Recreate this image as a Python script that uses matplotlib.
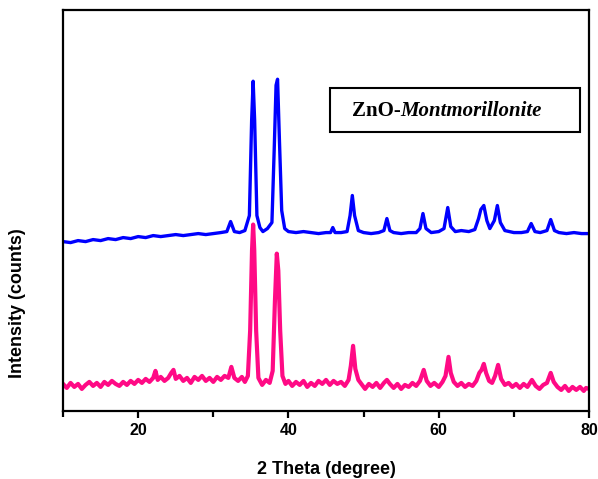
import matplotlib
matplotlib.use("Agg")
import matplotlib.pyplot as plt
from matplotlib.patches import Rectangle

# ZnO-Montmorillonite (upper trace, blue)
blue_2theta = [10.0, 11.0, 12.0, 13.0, 14.0, 15.0, 16.0, 17.0, 18.0, 19.0, 20.0, 21.0, 22.0, 23.0, 24.0,
               25.0, 26.0, 27.0, 28.0, 29.0, 30.0, 31.0, 31.8, 32.3, 32.8, 33.5, 34.2, 34.8, 35.1, 35.3,
               35.5, 35.8, 36.2, 36.6, 37.2, 37.8, 38.1, 38.35, 38.55, 38.8, 39.1, 39.5, 40.0, 41.0, 42.0,
               43.0, 44.0, 45.0, 45.6, 45.9, 46.2, 47.0, 47.8, 48.2, 48.5, 48.8, 49.3, 50.0, 51.0, 52.0,
               52.7, 53.1, 53.5, 54.0, 55.0, 56.0, 57.0, 57.5, 57.9, 58.3, 59.0, 60.0, 60.7, 61.2, 61.6,
               62.2, 63.0, 64.0, 64.8, 65.3, 65.6, 66.0, 66.4, 66.8, 67.4, 67.8, 68.2, 68.8, 70.0, 71.0,
               71.8, 72.3, 72.8, 73.5, 74.4, 74.9, 75.4, 76.0, 77.0, 78.0, 79.0, 80.0]
blue_counts = [169, 168, 170, 169, 171, 170, 172, 171, 173, 172, 174, 173, 175, 174, 175,
               176, 175, 176, 177, 176, 177, 178, 179, 189, 179, 178, 180, 195, 290, 329,
               290, 195, 183, 179, 182, 188, 260, 325, 331, 270, 200, 182, 179, 178, 179,
               178, 177, 178, 178, 183, 178, 178, 179, 195, 215, 195, 180, 178, 177, 178,
               180, 192, 180, 178, 177, 178, 178, 182, 197, 182, 178, 179, 182, 203, 184,
               179, 180, 179, 181, 192, 201, 205, 190, 182, 190, 205, 188, 180, 178, 178,
               179, 187, 179, 178, 180, 191, 180, 178, 177, 178, 177, 177]

# lower trace (pink)
pink_2theta = [10.0, 10.5, 11.0, 11.5, 12.0, 12.5, 13.0, 13.5, 14.0, 14.5, 15.0, 15.5, 16.0, 16.5, 17.0,
               17.5, 18.0, 18.5, 19.0, 19.5, 20.0, 20.5, 21.0, 21.5, 22.0, 22.3, 22.6, 23.0, 23.5, 24.0,
               24.4, 24.7, 25.0, 25.5, 26.0, 26.5, 27.0, 27.5, 28.0, 28.5, 29.0, 29.5, 30.0, 30.5, 31.0,
               31.5, 32.0, 32.4, 32.8, 33.3, 33.8, 34.2, 34.6, 34.9, 35.15, 35.3, 35.45, 35.7, 36.0, 36.5,
               37.0, 37.5, 37.9, 38.2, 38.45, 38.65, 38.9, 39.2, 39.6, 40.0, 40.5, 41.0, 41.5, 42.0, 42.5,
               43.0, 43.5, 44.0, 44.5, 45.0, 45.5, 46.0, 46.5, 47.0, 47.5, 48.0, 48.3, 48.6, 48.9, 49.3,
               49.8, 50.2, 50.7, 51.2, 51.7, 52.2, 52.7, 53.1, 53.5, 54.0, 54.5, 55.0, 55.5, 56.0, 56.5,
               57.0, 57.5, 58.0, 58.4, 58.9, 59.4, 60.0, 60.5, 60.9, 61.3, 61.6, 62.0, 62.5, 63.0, 63.5,
               64.0, 64.5, 65.0, 65.4, 65.7, 66.0, 66.3, 66.7, 67.1, 67.5, 67.9, 68.3, 68.8, 69.3, 69.8,
               70.3, 70.8, 71.3, 71.8, 72.4, 72.9, 73.4, 73.9, 74.4, 74.9, 75.3, 75.8, 76.3, 76.8, 77.3,
               77.8, 78.3, 78.8, 79.3, 79.6, 80.0]
pink_counts = [27, 23, 28, 24, 27, 22, 26, 29, 25, 28, 24, 29, 26, 30, 27,
               25, 29, 26, 30, 27, 31, 28, 32, 29, 33, 40, 31, 34, 30, 33,
               38, 41, 32, 35, 30, 33, 28, 34, 31, 35, 30, 33, 29, 34, 31,
               35, 33, 44, 33, 30, 34, 29, 35, 80, 160, 186, 160, 80, 33, 26,
               31, 28, 40, 110, 157, 140, 80, 35, 27, 30, 25, 29, 26, 30, 24,
               28, 25, 30, 27, 31, 26, 30, 27, 29, 25, 31, 45, 65, 42, 31,
               26, 22, 27, 24, 28, 23, 28, 31, 27, 23, 27, 22, 26, 24, 28,
               25, 30, 41, 30, 25, 28, 24, 29, 35, 54, 38, 29, 25, 28, 24,
               27, 25, 30, 38, 41, 47, 38, 30, 28, 35, 46, 32, 26, 28, 24,
               27, 23, 27, 24, 31, 25, 22, 26, 28, 38, 29, 24, 21, 25, 20,
               24, 21, 24, 20, 23, 22]

x_major = [20, 40, 60, 80]
x_minor = [10, 30, 50, 70]

plt.rcParams['font.family'] = ['Liberation Sans', 'DejaVu Sans']

fig = plt.figure(figsize=(5.98, 4.79), dpi=100)
ax = fig.add_axes([0.1054, 0.142, 0.8796, 0.837])

ax.plot(blue_2theta, blue_counts, color='#0000FF', lw=2.4)
ax.plot(pink_2theta, pink_counts, color='#FF0A85', lw=3.0)

ax.set_xlim(10, 80)
ax.set_ylim(0, 400)
ax.set_xticks(x_major)
ax.set_xticks(x_minor, minor=True)
ax.set_yticks([])
for s in ax.spines.values():
    s.set_linewidth(1.6)
ax.tick_params(axis='x', which='major', direction='out', length=5, width=1.6, pad=4,
               labelsize=11.5)
ax.tick_params(axis='x', which='minor', direction='out', length=4, width=1.6)
for lab in ax.get_xticklabels():
    lab.set_fontweight('bold')

ax.set_xlabel('2 Theta (degree)', fontsize=13, fontweight='bold', labelpad=16)
ax.set_ylabel('Intensity (counts)', fontsize=13, fontweight='bold')
ax.yaxis.set_label_coords(-0.07, 0.27)

# label box
ax.add_patch(Rectangle((0.508, 0.696), 0.475, 0.109, transform=ax.transAxes,
                       fill=False, lw=1.5, ec='black'))
t1 = ax.text(0.549, 0.748, 'ZnO-', transform=ax.transAxes, va='center', ha='left',
             fontsize=15, fontweight='bold', family=['Liberation Serif'])
ax.annotate('Montmorillonite', xy=(1, 0), xycoords=t1, va='bottom', ha='left',
            fontsize=15, fontweight='bold', fontstyle='italic', family=['Liberation Serif'])

fig.savefig('out.png', dpi=100)
